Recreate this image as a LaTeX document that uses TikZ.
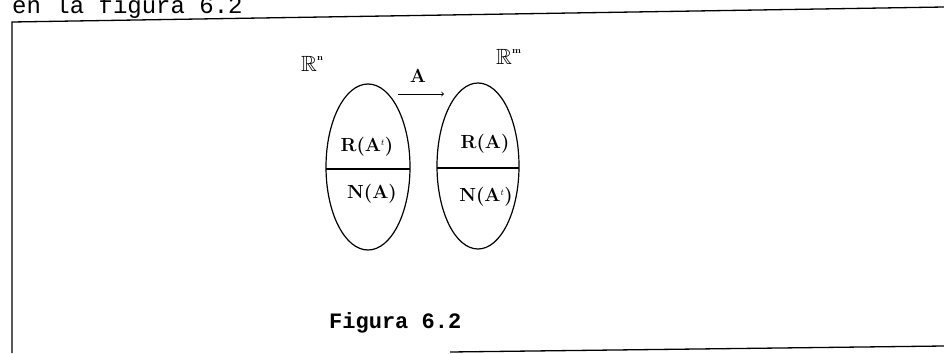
\documentclass[tikz,border=0pt]{standalone}
\usepackage{amssymb}
\usepackage{fontspec}
\newfontfamily\monofont{Liberation Mono}
\usetikzlibrary{shapes.geometric}
\begin{document}
\begin{tikzpicture}[x=1pt,y=-1pt,
  frameline/.style={line width=1.3pt},
  lbl/.style={font=\fontsize{19}{19}\selectfont\bfseries, inner sep=0pt},
  space/.style={font=\fontsize{22}{22}\selectfont\bfseries, inner sep=0pt}]
\useasboundingbox (0,0) rectangle (944,353);
% caption text above
\node[anchor=base west, inner sep=0pt, font=\monofont\fontsize{24}{24}\selectfont] (intro) at (12,14) {en la figura 6.2};
% frame
\coordinate (tl) at (12,22);
\coordinate (tr) at (944,7);
\coordinate (bl) at (12,353);
\coordinate (bs) at (450,352);
\coordinate (br) at (944,346);
\draw[frameline] (bl) -- (tl) -- (tr);
\draw[frameline] (bs) -- (br);
% ellipses
\draw[line width=1.2pt] (368,167) ellipse [x radius=42, y radius=83];
\draw[line width=1.2pt] (478,166) ellipse [x radius=41, y radius=83];
\coordinate (l1) at (326,169); \coordinate (l2) at (410,169);
\coordinate (r1) at (437,168); \coordinate (r2) at (519,168);
\draw[line width=1.2pt] (l1) -- (l2);
\draw[line width=1.2pt] (r1) -- (r2);
% labels
\node[lbl] (ra1) at (367,147) {R(A$^{\scriptscriptstyle t}$)};
\node[lbl] (na1) at (372,194) {N(A)};
\node[lbl] (ra2) at (485,144) {R(A)};
\node[lbl] (na2) at (486,197) {N(A$^{\scriptscriptstyle t}$)};
% spaces
\node[space, anchor=base west] (rn) at (301,71) {$\mathbb{R}$\raisebox{11pt}{\fontsize{9}{9}\selectfont n}};
\node[space, anchor=base west] (rm) at (496,64) {$\mathbb{R}$\raisebox{11pt}{\fontsize{9}{9}\selectfont m}};
% map arrow
\coordinate (a1) at (398,94);
\coordinate (a2) at (444,94);
\draw[->, line width=0.9pt] (a1) -- (a2);
\node[lbl, anchor=base] (amap) at (418,82) {A};
% figure caption
\node[anchor=base west, inner sep=0pt, font=\monofont\fontsize{22}{22}\selectfont\bfseries] (cap) at (329,328) {Figura 6.2};
\end{tikzpicture}
\end{document}
